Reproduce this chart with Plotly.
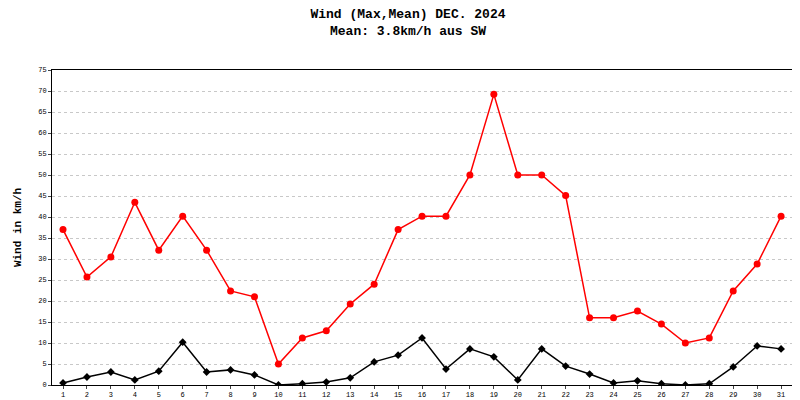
import plotly.graph_objects as go

days = list(range(1, 32))
wind_max = [37, 25.7, 30.5, 43.5, 32.1, 40.2, 32.1, 22.4, 21, 5, 11.2, 12.9, 19.3, 24, 37,
            40.2, 40.2, 50, 69.2, 50, 50, 45.1, 16, 16, 17.6, 14.5, 10, 11.2, 22.4, 28.8, 40.2]
wind_mean = [0.5, 1.9, 3.1, 1.2, 3.3, 10.2, 3.1, 3.6, 2.4, 0, 0.3, 0.7, 1.7, 5.5, 7.1,
             11.2, 3.8, 8.6, 6.7, 1.2, 8.6, 4.5, 2.6, 0.5, 1, 0.3, 0, 0.3, 4.3, 9.3, 8.6]

fig = go.Figure()
fig.add_trace(go.Scatter(x=days, y=wind_max, mode="lines+markers",
                         line=dict(color="#ff0000", width=1.5),
                         marker=dict(color="#ff0000", size=7, symbol="circle")))
fig.add_trace(go.Scatter(x=days, y=wind_mean, mode="lines+markers",
                         line=dict(color="#000000", width=1.5),
                         marker=dict(color="#000000", size=6, symbol="diamond")))

fig.update_layout(
    width=800, height=400,
    paper_bgcolor="white", plot_bgcolor="white",
    showlegend=False,
    font=dict(family="Liberation Mono, Courier New, monospace", color="black"),
    title=dict(text="<b>Wind (Max,Mean) DEC. 2024<br>Mean: 3.8km/h aus SW</b>",
               x=0.5, xanchor="center", yref="container", y=0.975, yanchor="top",
               font=dict(size=13)),
    margin=dict(l=44, r=14, t=62, b=23, autoexpand=False),
)
fig.update_xaxes(range=[0.54, 31.54], tickvals=days, tickfont=dict(size=7),
                 showgrid=False, showline=True, linecolor="black", mirror=True,
                 ticks="outside", ticklen=3, zeroline=False, automargin=False)
fig.update_yaxes(range=[0, 75], dtick=5, tickfont=dict(size=7),
                 title=dict(text="<b>Wind in km/h</b>", font=dict(size=11), standoff=14),
                 showgrid=True, gridcolor="#c8c8c8", griddash="dot",
                 showline=True, linecolor="black", mirror=True,
                 ticks="outside", ticklen=3, zeroline=False, automargin=False)

fig.write_html("out.html")
